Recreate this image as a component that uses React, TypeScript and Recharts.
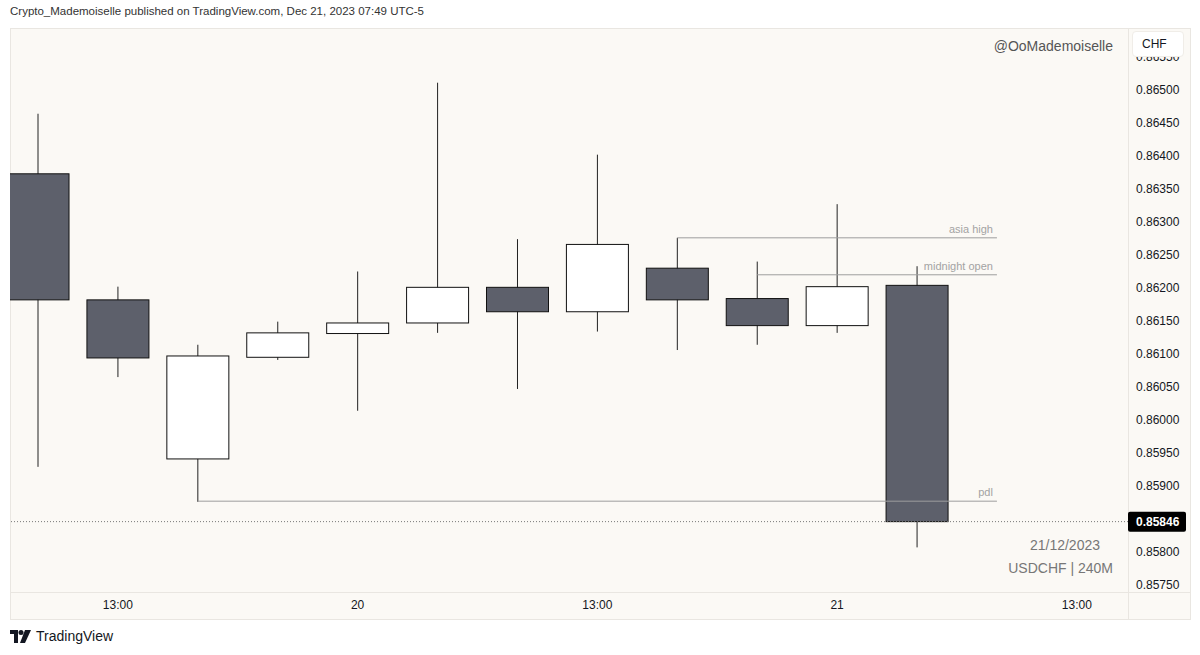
import { ComposedChart, Bar, XAxis, YAxis, ReferenceLine } from 'recharts';

// USDCHF 4h candles
const idx = [0, 1, 2, 3, 4, 5, 6, 7, 8, 9, 10, 11];
const opens = [0.86373, 0.86182, 0.85941, 0.86095, 0.86131, 0.86147, 0.86201, 0.86164, 0.8623, 0.86184, 0.86143, 0.86204];
const highs = [0.86464, 0.86202, 0.86114, 0.86149, 0.86225, 0.86511, 0.86274, 0.86402, 0.86276, 0.8624, 0.86327, 0.86233];
const lows = [0.85929, 0.86065, 0.85876, 0.86091, 0.86014, 0.86132, 0.86047, 0.86134, 0.86106, 0.86114, 0.86132, 0.85807];
const closes = [0.86182, 0.86094, 0.86097, 0.86132, 0.86147, 0.86201, 0.86164, 0.86266, 0.86182, 0.86143, 0.86202, 0.85846];

const timeTicks = [1, 4, 7, 10, 13];
const timeLabels = ['13:00', '20', '13:00', '21', '13:00'];

// 0.85850 is hidden behind the last price tag, as in TradingView
const priceTicks = [
  0.8575, 0.858, 0.859, 0.8595, 0.86, 0.8605, 0.861,
  0.8615, 0.862, 0.8625, 0.863, 0.8635, 0.864, 0.8645, 0.865, 0.8655,
];

// drawn levels
const levelNames = ['asia high', 'midnight open', 'pdl'];
const levelPrices = [0.86276, 0.8622, 0.85877];
const levelStarts = [8, 9, 2];
const levelEnd = 12;
const lastPrice = 0.85846;

const data = idx.map((i, k) => ({
  i,
  open: opens[k],
  high: highs[k],
  low: lows[k],
  close: closes[k],
}));

const FONT = '"Liberation Sans", Arial, sans-serif';

const Candle = (props: any) => {
  const { x, y, width, height, payload } = props;
  if (!payload) return null;
  const { open, close, high, low } = payload;
  const ratio = height / (high - low);
  const top = y + (high - Math.max(open, close)) * ratio;
  const bot = y + (high - Math.min(open, close)) * ratio;
  const cx = x + width / 2;
  const up = close >= open;
  return (
    <g>
      <line x1={cx} x2={cx} y1={y} y2={y + height} stroke="#222" strokeWidth={1} />
      <rect
        x={x}
        y={top}
        width={width}
        height={Math.max(1, bot - top)}
        fill={up ? '#ffffff' : '#5d606b'}
        stroke="#111"
        strokeWidth={1}
      />
    </g>
  );
};

const LevelLabel = (props: any) => {
  const { viewBox, text } = props;
  if (!viewBox) return null;
  return (
    <text
      x={viewBox.x + viewBox.width - 4}
      y={viewBox.y - 5}
      textAnchor="end"
      fontSize={11}
      fontFamily={FONT}
      fill="#a3a3a3"
    >
      {text}
    </text>
  );
};

const PriceTag = (props: any) => {
  const { viewBox } = props;
  if (!viewBox) return null;
  const x = viewBox.x + viewBox.width;
  return (
    <g>
      <rect x={x} y={viewBox.y - 10} width={58} height={20} rx={2} fill="#000" />
      <text x={x + 8} y={viewBox.y + 4.5} fontSize={12} fontWeight="bold" fontFamily={FONT} fill="#fff">
        {lastPrice.toFixed(5)}
      </text>
    </g>
  );
};

export default function App() {
  return (
    <div style={{ position: 'fixed', left: 0, top: 0, width: 1200, height: 655, background: '#fff', fontFamily: FONT }}>
      <div style={{ position: 'absolute', left: 10, top: 5, fontSize: 11.5, color: '#333' }}>
        Crypto_Mademoiselle published on TradingView.com, Dec 21, 2023 07:49 UTC-5
      </div>
      <div
        style={{
          position: 'absolute',
          left: 10,
          top: 28,
          width: 1179,
          height: 590,
          background: '#fbf9f5',
          border: '1px solid #e9e6e1',
        }}
      />
      <div style={{ position: 'absolute', left: 1128, top: 28, width: 1, height: 591, background: '#e9e6e1' }} />
      <div style={{ position: 'absolute', left: 10, top: 592, width: 1180, height: 1, background: '#e9e6e1' }} />
      <div style={{ position: 'absolute', left: 0, top: 0 }}>
        <ComposedChart width={1200} height={655} data={data} margin={{ top: 28, right: 10, bottom: 36, left: 10 }}>
          <XAxis
            dataKey="i"
            type="number"
            domain={[-0.35, 13.64]}
            allowDataOverflow
            ticks={timeTicks}
            tickFormatter={(v: number) => timeLabels[timeTicks.indexOf(v)] ?? ''}
            height={27}
            axisLine={false}
            tickLine={false}
            tick={{ fontSize: 12, fill: '#131722', fontFamily: FONT }}
            interval={0}
          />
          <YAxis
            orientation="right"
            type="number"
            domain={[0.857394, 0.865939]}
            allowDataOverflow
            ticks={priceTicks}
            tickFormatter={(v: number) => v.toFixed(5)}
            width={62}
            axisLine={false}
            tickLine={false}
            tick={{ fontSize: 12, fill: '#131722', fontFamily: FONT, textAnchor: 'start' }}
            interval={0}
          />
          <ReferenceLine
            y={lastPrice}
            stroke="#777"
            strokeDasharray="1 2"
            strokeWidth={1}
            label={<PriceTag />}
          />
          {levelNames.map((name, k) => (
            <ReferenceLine
              key={name}
              segment={[
                { x: levelStarts[k], y: levelPrices[k] },
                { x: levelEnd, y: levelPrices[k] },
              ]}
              stroke="#9e9e9e"
              strokeWidth={1}
              label={<LevelLabel text={name} />}
            />
          ))}
          <Bar
            dataKey={(d: any) => [d.low, d.high]}
            barSize={62}
            shape={<Candle />}
            isAnimationActive={false}
          />
        </ComposedChart>
      </div>
      <div style={{ position: 'absolute', right: 87, top: 38, fontSize: 14, color: '#555' }}>@OoMademoiselle</div>
      <div style={{ position: 'absolute', right: 100, top: 537, fontSize: 14, color: '#777' }}>21/12/2023</div>
      <div style={{ position: 'absolute', right: 87, top: 560, fontSize: 14, color: '#777' }}>USDCHF | 240M</div>
      <div
        style={{
          position: 'absolute',
          left: 1132,
          top: 31,
          width: 52,
          height: 26,
          background: '#fff',
          borderRadius: 4,
          border: '1px solid #f0ede8',
          fontSize: 12,
          color: '#131722',
          lineHeight: '24px',
          paddingLeft: 9,
          boxSizing: 'border-box',
        }}
      >
        CHF
      </div>
      <div style={{ position: 'absolute', left: 10, top: 628, display: 'flex', alignItems: 'center', gap: 5 }}>
        <svg width={21} height={13} viewBox="0 0 21 13">
          <path d="M0 0 H8 V13 H4 V4 H0 Z" fill="#131722" />
          <circle cx={11} cy={2.5} r={2.5} fill="#131722" />
          <path d="M15 0 H21 L15 13 H10 Z" fill="#131722" />
        </svg>
        <span style={{ fontSize: 14, color: '#131722' }}>TradingView</span>
      </div>
    </div>
  );
}
